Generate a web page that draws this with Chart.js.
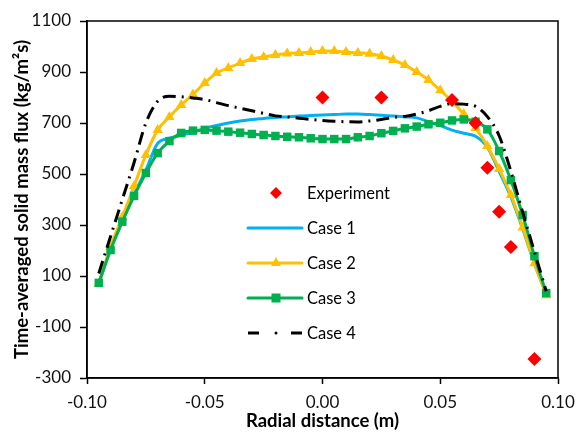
<!DOCTYPE html>
<html>
<head>
<meta charset="utf-8">
<script src="https://cdn.jsdelivr.net/npm/chart.js@4"></script>
<style>
  html, body { margin: 0; padding: 0; background: #fff; }
  #wrap { width: 576px; height: 432px; }
</style>
</head>
<body>
<div id="wrap"><canvas id="flux" width="576" height="432"></canvas></div>
<script>
// radial positions of the simulated profiles (m)
const radial = [-0.095, -0.09, -0.085, -0.08, -0.075, -0.07, -0.065, -0.06, -0.055, -0.05,
  -0.045, -0.04, -0.035, -0.03, -0.025, -0.02, -0.015, -0.01, -0.005, 0,
  0.005, 0.01, 0.015, 0.02, 0.025, 0.03, 0.035, 0.04, 0.045, 0.05,
  0.055, 0.06, 0.065, 0.07, 0.075, 0.08, 0.085, 0.09, 0.095];

// time-averaged solid mass flux, kg/m2s
const case1 = [70, 205, 315, 420, 515, 620, 640, 652, 663, 678,
  690, 700, 708, 714, 718, 722, 724, 727, 729, 731,
  733, 735, 735, 733, 730, 727, 724, 720, 705, 690,
  672, 660, 648, 605, 510, 410, 285, 148, 30];
const case2 = [70, 215, 331, 453, 575, 673, 724, 771, 812, 857,
  896, 916, 935, 951, 959, 967, 973, 975, 978, 982,
  982, 978, 975, 972, 963, 947, 927, 900, 869, 828,
  785, 735, 680, 610, 520, 418, 290, 150, 25];
const case3 = [73, 202, 313, 414, 504, 582, 629, 661, 670, 673,
  670, 666, 662, 657, 653, 649, 646, 644, 640, 637,
  637, 637, 644, 649, 660, 669, 679, 686, 695, 701,
  710, 714, 705, 675, 590, 476, 339, 178, 33];
const case4 = [110, 255, 400, 545, 700, 785, 805, 803, 798, 792,
  780, 768, 758, 748, 738, 728, 724, 719, 714, 710,
  707, 705, 704, 708, 714, 722, 726, 735, 748, 765,
  776, 774, 765, 725, 650, 510, 350, 195, 40];

const expX = [0, 0.025, 0.055, 0.065, 0.07, 0.075, 0.08, 0.09];
const expY = [800, 800, 790, 700, 525, 352, 214, -225];

const yTicks = [-300, -100, 100, 300, 500, 700, 900, 1100];

const pts = (xs, ys) => xs.map((x, i) => ({ x: x, y: ys[i] }));

const FONT = 'Lato, "Open Sans", sans-serif';

// frame round the plot area plus the legend sitting inside it
const framePlugin = {
  id: 'frame',
  afterDatasetsDraw(chart) {
    const { ctx, chartArea: a } = chart;
    ctx.save();
    ctx.strokeStyle = '#000';
    ctx.lineWidth = 1.5;
    ctx.strokeRect(a.left, a.top, a.right - a.left, a.bottom - a.top);
    ctx.restore();
  },
  afterDraw(chart) {
    const ctx = chart.ctx;
    const x0 = 248, x1 = 302, mid = 276, tx = 307;
    const rows = [193, 228, 263, 298, 333];
    const sets = chart.data.datasets;
    ctx.save();
    ctx.font = '16.5px ' + FONT;
    ctx.fillStyle = '#000';
    ctx.textBaseline = 'middle';
    rows.forEach((y, i) => {
      const ds = sets[i];
      ctx.strokeStyle = ds.borderColor;
      ctx.fillStyle = ds.pointBackgroundColor || ds.borderColor;
      ctx.lineWidth = 3;
      ctx.lineCap = 'round';
      if (i === 0) {
        ctx.beginPath();
        ctx.moveTo(mid, y - 6); ctx.lineTo(mid + 6, y); ctx.lineTo(mid, y + 6); ctx.lineTo(mid - 6, y);
        ctx.closePath(); ctx.fill();
      } else if (i === 4) {
        ctx.lineCap = 'butt';
        ctx.beginPath();
        ctx.moveTo(x0, y); ctx.lineTo(x0 + 11, y);
        ctx.moveTo(x1 - 11, y); ctx.lineTo(x1, y);
        ctx.stroke();
        ctx.beginPath(); ctx.arc(mid, y, 1.5, 0, Math.PI * 2); ctx.fillStyle = '#000'; ctx.fill();
      } else {
        ctx.beginPath(); ctx.moveTo(x0, y); ctx.lineTo(x1, y); ctx.stroke();
        if (i === 2) {
          ctx.beginPath();
          ctx.moveTo(mid, y - 6); ctx.lineTo(mid + 5, y + 3); ctx.lineTo(mid - 5, y + 3);
          ctx.closePath(); ctx.fill();
        } else if (i === 3) {
          ctx.fillRect(mid - 4.5, y - 4.5, 9, 9);
        }
      }
      ctx.fillStyle = '#000';
      ctx.fillText(ds.label, tx, y + 1);
    });
    ctx.restore();
  }
};

const lineSet = (label, data, color, extra) => Object.assign({
  type: 'line',
  label: label,
  data: pts(radial, data),
  borderColor: color,
  backgroundColor: color,
  pointBackgroundColor: color,
  pointBorderWidth: 0,
  borderWidth: 3,
  pointRadius: 0,
  cubicInterpolationMode: 'monotone',
  fill: false
}, extra);

new Chart(document.getElementById('flux'), {
  type: 'scatter',
  data: {
    datasets: [
      {
        label: 'Experiment',
        data: pts(expX, expY),
        showLine: false,
        pointStyle: 'rectRot',
        pointRadius: 7,
        pointBorderWidth: 0,
        borderColor: '#ff0000',
        backgroundColor: '#ff0000',
        pointBackgroundColor: '#ff0000',
        order: 0
      },
      lineSet('Case 1', case1, '#00b0f0', { order: 4 }),
      lineSet('Case 2', case2, '#ffc000', { pointStyle: 'triangle', pointRadius: 6, order: 3 }),
      lineSet('Case 3', case3, '#00b050', { pointStyle: 'rect', pointRadius: 6, order: 2 }),
      lineSet('Case 4', case4, '#000000', { borderDash: [13, 6, 2, 6], borderCapStyle: 'butt', order: 1 })
    ]
  },
  options: {
    responsive: false,
    animation: false,
    layout: { padding: { top: 21, right: 18, left: 0, bottom: 0 } },
    plugins: {
      legend: { display: false },
      tooltip: { enabled: false }
    },
    scales: {
      x: {
        type: 'linear',
        min: -0.1,
        max: 0.1,
        afterFit: s => { s.height = 54; s.paddingLeft = 0; s.paddingRight = 0; },
        ticks: {
          stepSize: 0.05,
          padding: 8,
          color: '#111',
          font: { family: FONT, size: 17 },
          callback: v => (Math.abs(v) < 1e-9 ? 0 : v).toFixed(2)
        },
        grid: { drawOnChartArea: false, drawTicks: true, tickLength: 6, tickColor: '#000', tickWidth: 1.5 },
        border: { color: '#000', width: 1.5 },
        title: {
          display: true,
          text: 'Radial distance (m)',
          color: '#000',
          font: { family: FONT, size: 18.5, weight: 'bold' },
          padding: { top: 0, bottom: 0 }
        }
      },
      y: {
        min: -300,
        max: 1100,
        afterFit: s => { s.width = 87; s.paddingTop = 0; s.paddingBottom = 0; },
        afterBuildTicks: s => { s.ticks = yTicks.map(v => ({ value: v })); },
        ticks: {
          padding: 9,
          color: '#111',
          font: { family: FONT, size: 17 },
          callback: v => String(v)
        },
        grid: { drawOnChartArea: false, drawTicks: true, tickLength: 7, tickColor: '#000', tickWidth: 1.5 },
        border: { color: '#000', width: 1.5 },
        title: {
          display: true,
          text: 'Time-averaged solid mass flux (kg/m²s)',
          color: '#000',
          font: { family: FONT, size: 18.5, weight: 'bold' },
          padding: { top: 11, bottom: 0 }
        }
      }
    }
  },
  plugins: [framePlugin]
});
</script>
</body>
</html>
